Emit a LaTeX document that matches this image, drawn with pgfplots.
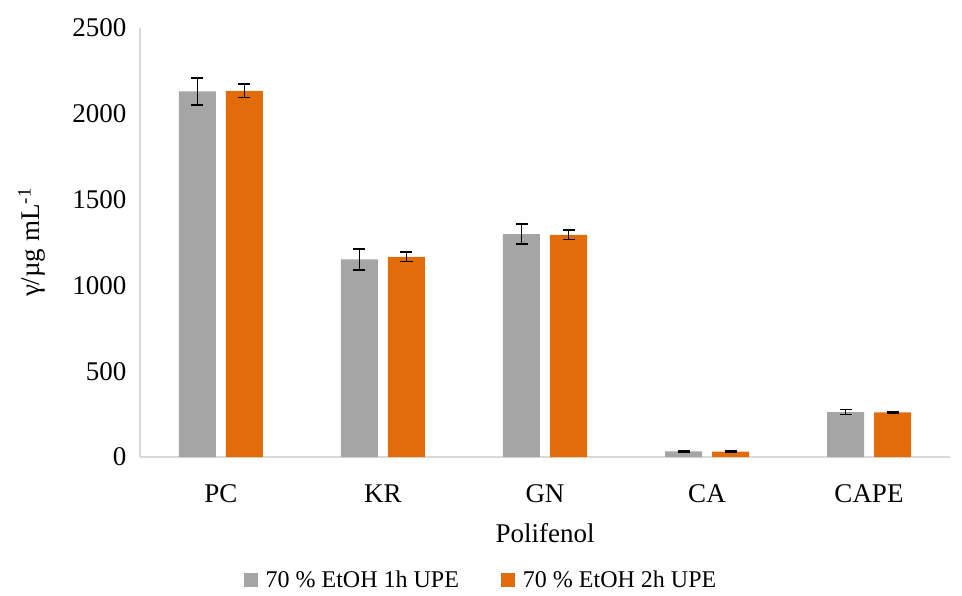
\documentclass[border=0pt]{standalone}
\usepackage{pgfplots}
\pgfplotsset{compat=1.18}
\usepackage{fontspec}
\setmainfont{Liberation Serif}
\definecolor{cgray}{RGB}{165,165,165}
\definecolor{corange}{RGB}{227,108,10}
\definecolor{axgray}{RGB}{217,217,217}
\begin{document}
\begin{tikzpicture}
\path[use as bounding box] (-140pt,-138pt) rectangle (822pt,457pt);
\begin{axis}[
  at={(0pt,0pt)}, anchor=south west,
  scale only axis, width=810pt, height=429pt,
  ymin=0, ymax=2500, ytick={0,500,...,2500},
  xmin=-0.5, xmax=4.5,
  xtick={0,1,2,3,4}, xticklabels={PC,KR,GN,CA,CAPE},
  axis x line*=bottom, axis y line*=left,
  x axis line style={draw=axgray, line width=1.5pt, -},
  y axis line style={draw=axgray, line width=1.5pt, -},
  major tick length=0pt,
  ybar=10pt, bar width=37pt,
  font=\fontsize{27}{31}\selectfont,
  tick label style={font=\fontsize{27}{31}\selectfont},
  /pgf/number format/assume math mode=true,
  /pgf/number format/1000 sep={},
  yticklabel style={xshift=-10pt},
  xticklabel style={yshift=-24pt},
  xlabel={Polifenol},
  xlabel style={yshift=-14pt},
  ylabel={γ/µg mL\textsuperscript{-1}},
  ylabel style={yshift=20pt},
  legend style={at={(341pt,-123pt)}, anchor=center, draw=none, legend columns=2,
    /tikz/every even column/.append style={column sep=40pt},
    font=\fontsize{24}{28}\selectfont},
  legend image code/.code={\fill[#1] (0pt,-7pt) rectangle (14pt,7pt);},
  error bars/error bar style={black, line width=1.6pt},
  error bars/error mark options={rotate=90, mark size=6pt, line width=1.6pt, black},
]
\addplot[fill=cgray, draw=none, error bars/.cd, y dir=both, y explicit]
coordinates {(0,2130) +- (0,79) (1,1152) +- (0,61) (2,1299) +- (0,58) (3,33) +- (0,4) (4,262) +- (0,15)};
\addplot[fill=corange, draw=none, error bars/.cd, y dir=both, y explicit]
coordinates {(0,2134) +- (0,40) (1,1166) +- (0,27) (2,1295) +- (0,27) (3,31) +- (0,4) (4,260) +- (0,5)};
\legend{\hspace{6pt}70 \% EtOH 1h UPE, \hspace{6pt}70 \% EtOH 2h UPE}
\end{axis}
\end{tikzpicture}
\end{document}
